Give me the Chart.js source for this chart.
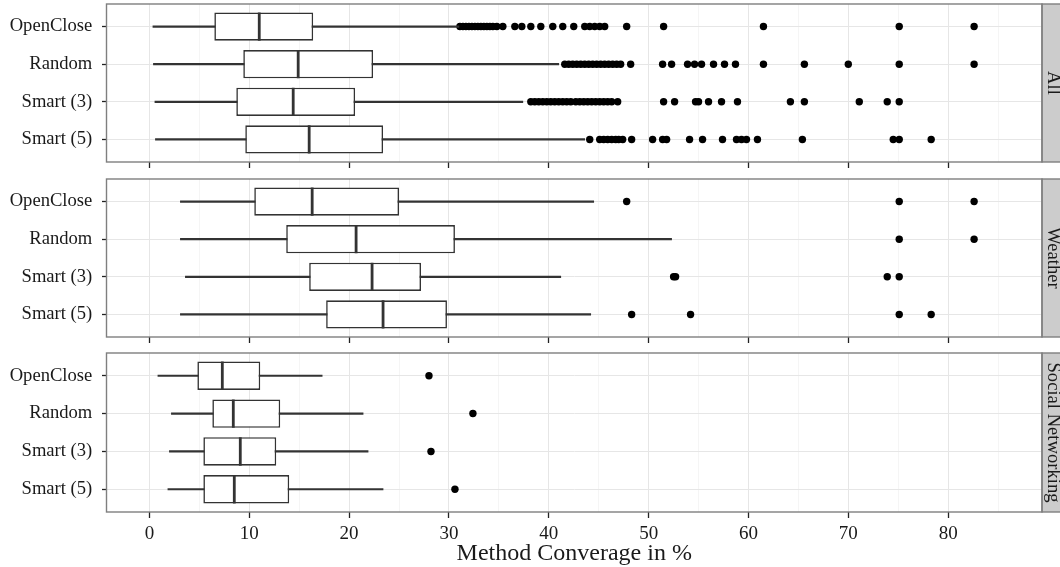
<!DOCTYPE html>
<html>
<head>
<meta charset="utf-8">
<script src="https://cdn.jsdelivr.net/npm/chart.js@4.4.1/dist/chart.umd.min.js"></script>
<style>
  html, body { margin: 0; padding: 0; background: #ffffff; }
  #wrap { position: relative; width: 1060px; height: 567px; overflow: hidden; background: #ffffff; }
  .panel { position: absolute; left: 0; width: 1060px; }
  canvas { display: block; }
</style>
</head>
<body>
<div id="wrap">
  <div class="panel" style="top:0px;height:170px"><canvas id="c0" width="1060" height="170"></canvas></div>
  <div class="panel" style="top:170px;height:175px"><canvas id="c1" width="1060" height="175"></canvas></div>
  <div class="panel" style="top:345px;height:222px"><canvas id="c2" width="1060" height="222"></canvas></div>
</div>
<script>
// ---------------- data ----------------
const categories = ['OpenClose', 'Random', 'Smart (3)', 'Smart (5)'];
const panelNames = ['All', 'Weather', 'Social Networking'];
const xTickValues = [0, 10, 20, 30, 40, 50, 60, 70, 80];
const xTickLabels = ['0', '10', '20', '30', '40', '50', '60', '70', '80'];
const xMinorValues = [5, 15, 25, 35, 45, 55, 65, 75, 85];
const xAxisTitle = 'Method Converage in %';

// Panel "All"
const allLow    = [0.35, 0.4, 0.55, 0.6];
const allQ1     = [6.5, 9.4, 8.7, 9.6];
const allMedian = [11.0, 14.9, 14.4, 16.0];
const allQ3     = [16.4, 22.4, 20.6, 23.4];
const allHigh   = [31.0, 41.0, 37.4, 43.6];
const allOutOpenClose = [31.1, 31.4, 31.7, 32.0, 32.3, 32.6, 32.9, 33.2, 33.5, 33.8, 34.1, 34.4, 34.8,
  35.4, 36.6, 37.3, 38.2, 39.2, 40.4, 41.4, 42.5, 43.6, 44.1, 44.6, 45.1, 45.6, 47.8, 51.5, 61.5, 75.1, 82.6];
const allOutRandom = [41.6, 42.0, 42.4, 42.8, 43.2, 43.6, 44.0, 44.4, 44.8, 45.2, 45.6, 46.0, 46.4, 46.8, 47.2,
  48.2, 51.4, 52.3, 53.9, 54.6, 55.3, 56.5, 57.6, 58.7, 61.5, 65.6, 70.0, 75.1, 82.6];
const allOutSmart3 = [38.2, 38.6, 39.0, 39.4, 39.8, 40.2, 40.6, 41.0, 41.4, 41.8, 42.2,
  42.7, 43.1, 43.5, 43.9, 44.3, 44.7, 45.1, 45.5, 45.9, 46.3, 46.9,
  51.5, 52.6, 54.7, 55.0, 56.0, 57.3, 58.9, 64.2, 65.6, 71.1, 73.9, 75.1];
const allOutSmart5 = [44.1, 45.1, 45.5, 45.9, 46.3, 46.7, 47.0, 47.4, 48.3, 50.4, 51.4, 51.8,
  54.1, 55.4, 57.4, 58.8, 59.3, 59.8, 60.9, 65.4, 74.5, 75.1, 78.3];

// Panel "Weather"
const weatherLow    = [3.1, 3.1, 3.6, 3.1];
const weatherQ1     = [10.5, 13.7, 16.0, 17.7];
const weatherMedian = [16.3, 20.7, 22.3, 23.4];
const weatherQ3     = [25.0, 30.6, 27.2, 29.8];
const weatherHigh   = [44.5, 52.3, 41.2, 44.2];
const weatherOutOpenClose = [47.8, 75.1, 82.6];
const weatherOutRandom    = [75.1, 82.6];
const weatherOutSmart3    = [52.5, 52.7, 73.9, 75.1];
const weatherOutSmart5    = [48.3, 54.2, 75.1, 78.3];

// Panel "Social Networking"
const socialLow    = [0.85, 2.2, 2.0, 1.85];
const socialQ1     = [4.8, 6.3, 5.4, 5.4];
const socialMedian = [7.3, 8.4, 9.1, 8.5];
const socialQ3     = [11.1, 13.1, 12.7, 14.0];
const socialHigh   = [17.3, 21.4, 21.9, 23.4];
const socialOutOpenClose = [28.0];
const socialOutRandom    = [32.4];
const socialOutSmart3    = [28.2];
const socialOutSmart5    = [30.6];

// ---------------- styling ----------------
const FONT = '"Liberation Serif", "Times New Roman", serif';
const BOX_WIDTH = 0.75;
const TEXT_COLOR = '#1a1a1a';
const LINE_COLOR = '#333333';

const facetPlugin = {
  id: 'facet',
  afterDatasetsDraw(chart, args, opts) {
    const { ctx, chartArea: a } = chart;
    ctx.save();
    // strip
    ctx.fillStyle = '#CCCCCC';
    ctx.fillRect(a.right, a.top, chart.width - a.right + 4, a.bottom - a.top);
    ctx.strokeStyle = '#7F7F7F';
    ctx.lineWidth = 1.4;
    ctx.strokeRect(a.right, a.top, chart.width - a.right + 4, a.bottom - a.top);
    // panel border
    ctx.strokeRect(a.left, a.top, a.right - a.left, a.bottom - a.top);
    // strip text, rotated clockwise
    ctx.translate(a.right + 5.5, (a.top + a.bottom) / 2);
    ctx.rotate(Math.PI / 2);
    ctx.font = '18.6px ' + FONT;
    ctx.fillStyle = TEXT_COLOR;
    ctx.textAlign = 'center';
    ctx.textBaseline = 'alphabetic';
    ctx.fillText(opts.text, 0, 0);
    ctx.restore();
  }
};

function isMajor(v) { return xTickValues.indexOf(v) >= 0; }

function makePanel(canvasId, name, low, q1, med, q3, high, outliers, geom) {
  const outPoints = [];
  outliers.forEach((arr, i) => arr.forEach(v => outPoints.push({ x: v, y: i })));
  const cfg = {
    type: 'bar',
    data: {
      datasets: [
        {
          type: 'scatter', label: 'median',
          data: categories.map((c, i) => ({ x: med[i], y: i })),
          pointStyle: 'line', pointRotation: 90,
          pointRadius: (ctx) => {
            const ys = ctx.chart.scales.y;
            return Math.abs(ys.getPixelForValue(BOX_WIDTH / 2) - ys.getPixelForValue(0));
          },
          pointBorderColor: LINE_COLOR, pointBackgroundColor: LINE_COLOR, pointBorderWidth: 2.8,
          order: 0
        },
        {
          type: 'bar', label: 'box',
          data: categories.map((c, i) => ({ x: [q1[i], q3[i]], y: i })),
          backgroundColor: '#ffffff', borderColor: LINE_COLOR, borderWidth: 1.6, borderSkipped: false,
          barPercentage: BOX_WIDTH, categoryPercentage: 1, stack: 's', order: 1
        },
        {
          type: 'bar', label: 'whisker',
          data: categories.map((c, i) => ({ x: [low[i], high[i]], y: i })),
          backgroundColor: LINE_COLOR, borderWidth: 0, barThickness: 1.5, stack: 's', order: 2
        },
        {
          type: 'scatter', label: 'outliers',
          data: outPoints,
          pointRadius: 3.7, pointBackgroundColor: '#000000', pointBorderWidth: 0, pointStyle: 'circle',
          order: 3
        }
      ]
    },
    options: {
      indexAxis: 'y',
      responsive: false,
      animation: false,
      events: [],
      layout: { padding: { top: geom.padTop, right: 18, left: 0, bottom: 0 } },
      plugins: {
        legend: { display: false },
        tooltip: { enabled: false },
        facet: { text: name }
      },
      scales: {
        x: {
          type: 'linear', min: -4.3, max: 89.4, stacked: false, offset: false,
          afterBuildTicks: (s) => {
            s.ticks = xTickValues.concat(xMinorValues).sort((a, b) => a - b).map(v => ({ value: v }));
          },
          afterFit: (s) => { s.height = geom.axisHeight; s.paddingLeft = 0; s.paddingRight = 0; s.paddingTop = 0; s.paddingBottom = 0; },
          ticks: {
            display: geom.showLabels,
            autoSkip: false, maxRotation: 0, padding: 5,
            callback: (v) => { const i = xTickValues.indexOf(v); return i >= 0 ? xTickLabels[i] : ''; },
            font: { family: FONT, size: 19 }, color: TEXT_COLOR
          },
          grid: {
            offset: false, drawTicks: true, tickLength: 6, tickWidth: 1.3, lineWidth: 1,
            color: (c) => isMajor(c.tick.value) ? '#E6E6E6' : '#F5F5F5',
            tickColor: (c) => isMajor(c.tick.value) ? '#222222' : 'rgba(0,0,0,0)'
          },
          border: { display: false },
          title: {
            display: geom.showLabels, text: xAxisTitle,
            font: { family: FONT, size: 24, lineHeight: 1.1 }, color: TEXT_COLOR,
            padding: { top: 0, bottom: 0 }
          }
        },
        y: {
          type: 'linear', reverse: true, min: -0.6, max: 3.6, offset: false,
          afterBuildTicks: (s) => { s.ticks = categories.map((c, i) => ({ value: i })); },
          afterFit: (s) => { s.width = 106.5; s.paddingTop = 0; s.paddingBottom = 0; s.paddingLeft = 0; s.paddingRight = 0; },
          ticks: {
            autoSkip: false, padding: 9.7,
            callback: (v) => categories[v],
            font: { family: FONT, size: 18.6 }, color: TEXT_COLOR
          },
          grid: {
            offset: false, drawTicks: true, tickLength: 4.5, tickWidth: 1.3, lineWidth: 1,
            color: '#E6E6E6', tickColor: '#222222'
          },
          border: { display: false }
        }
      }
    },
    plugins: [facetPlugin]
  };
  return new Chart(document.getElementById(canvasId), cfg);
}

makePanel('c0', panelNames[0], allLow, allQ1, allMedian, allQ3, allHigh,
  [allOutOpenClose, allOutRandom, allOutSmart3, allOutSmart5],
  { padTop: 4, axisHeight: 8, showLabels: false });
makePanel('c1', panelNames[1], weatherLow, weatherQ1, weatherMedian, weatherQ3, weatherHigh,
  [weatherOutOpenClose, weatherOutRandom, weatherOutSmart3, weatherOutSmart5],
  { padTop: 9, axisHeight: 8, showLabels: false });
makePanel('c2', panelNames[2], socialLow, socialQ1, socialMedian, socialQ3, socialHigh,
  [socialOutOpenClose, socialOutRandom, socialOutSmart3, socialOutSmart5],
  { padTop: 8, axisHeight: 55, showLabels: true });
</script>
</body>
</html>
